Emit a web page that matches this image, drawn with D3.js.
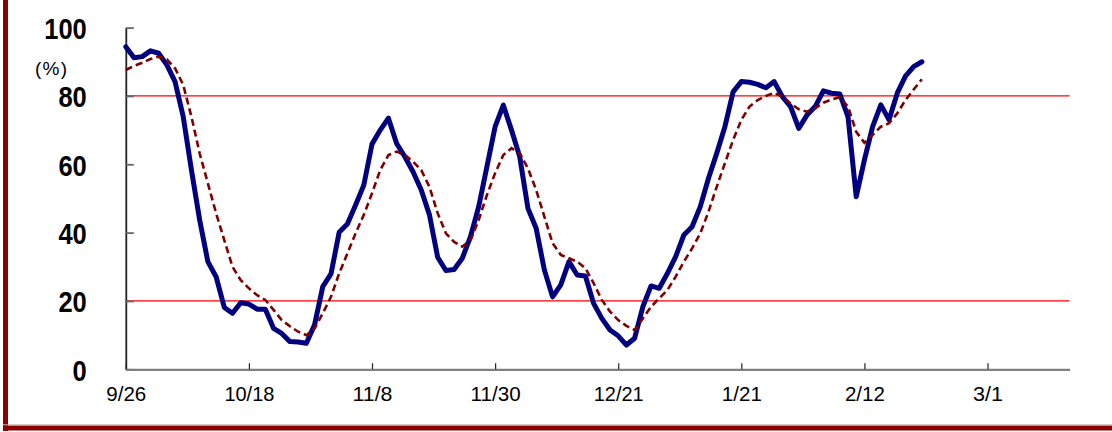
<!DOCTYPE html>
<html>
<head>
<meta charset="utf-8">
<script src="https://cdn.jsdelivr.net/npm/d3@7"></script>
<style>
  html, body { margin: 0; padding: 0; background: #fff; }
  svg { display: block; }
</style>
</head>
<body>
<svg id="chart" width="1112" height="432"></svg>
<script>
// ---- data ----
const categoryCount = 116;          // trading-day slots on the category axis
const tickIndex = [0, 15, 30, 45, 60, 75, 90, 105];
const tickLabels = ["9/26", "10/18", "11/8", "11/30", "12/21", "1/21", "2/12", "3/1"];
const yTicks = [0, 20, 40, 60, 80, 100];
const refLines = [80, 20];

const seriesMain = [
  94.4, 91.2, 91.5, 93.2, 92.5, 89.1, 84.2, 73.9, 58.3, 43.7,
  31.5, 27.1, 18.1, 16.4, 19.5, 19.1, 17.6, 17.6, 12.0, 10.5,
  8.1, 8.0, 7.6, 13.0, 24.2, 27.9, 40.1, 42.5, 48.1, 53.9,
  65.9, 70.0, 73.5, 66.1, 62.2, 57.8, 52.5, 45.2, 32.8, 28.9,
  29.2, 32.5, 38.8, 47.6, 59.3, 71.0, 77.3, 70.0, 62.2, 47.1,
  41.3, 29.1, 21.2, 24.7, 31.5, 27.6, 27.3, 19.3, 14.9, 11.5,
  9.8, 7.1, 9.1, 18.3, 24.4, 23.7, 28.1, 33.0, 39.3, 41.7,
  47.6, 55.9, 63.2, 71.0, 81.2, 84.2, 84.0, 83.4, 82.4, 84.2,
  79.8, 76.9, 70.5, 74.4, 76.9, 81.5, 80.8, 80.6, 73.9, 50.5,
  61.3, 71.0, 77.4, 73.0, 80.8, 85.8, 88.6, 90.0
];
const seriesAvg = [
  87.6, 88.8, 89.7, 90.8, 91.5, 90.7, 88.1, 83.2, 73.9, 63.2,
  54.4, 45.7, 37.8, 30.0, 26.1, 23.7, 21.7, 20.3, 17.4, 14.4,
  12.6, 11.0, 10.0, 12.0, 16.4, 21.2, 28.1, 33.9, 39.8, 45.2,
  51.5, 58.3, 62.7, 63.7, 62.7, 60.8, 58.3, 53.4, 45.7, 39.8,
  37.3, 35.9, 37.8, 43.7, 51.0, 57.4, 62.7, 64.7, 63.2, 58.8,
  52.5, 44.7, 36.9, 33.5, 32.5, 31.5, 29.6, 25.2, 20.3, 16.9,
  14.4, 12.7, 11.5, 14.9, 18.3, 20.8, 23.2, 27.1, 31.5, 35.4,
  39.8, 46.1, 53.4, 60.3, 67.1, 73.0, 76.9, 78.8, 80.0, 80.9,
  79.8, 77.8, 76.1, 75.4, 76.4, 78.0, 79.0, 79.6, 76.9, 69.5,
  66.3, 68.6, 71.0, 72.0, 74.9, 78.8, 81.9, 84.9
];

// ---- layout ----
const svg = d3.select("#chart");
const plotLeft = 125.8, plotRight = 1069.6, plotTop = 27.6, plotBottom = 369.3;

const x = d3.scaleLinear().domain([0, categoryCount - 1]).range([plotLeft, plotRight]);
const y = d3.scaleLinear().domain([0, 100]).range([plotBottom, plotTop]);

// frame (left and bottom dark-red borders)
svg.append("rect").attr("x", 3).attr("y", 0).attr("width", 5).attr("height", 431).attr("fill", "#8b0000");
svg.append("rect").attr("x", 3).attr("y", 425.5).attr("width", 1109).attr("height", 5).attr("fill", "#8b0000");
svg.append("line").attr("x1", 3).attr("x2", 1112).attr("y1", 424.8).attr("y2", 424.8)
  .attr("stroke", "#c8b4b4").attr("stroke-width", 1);

// reference lines
svg.selectAll("line.ref").data(refLines).enter().append("line")
  .attr("class", "ref")
  .attr("x1", x(0)).attr("x2", x(categoryCount - 1))
  .attr("y1", d => y(d)).attr("y2", d => y(d))
  .attr("stroke", "#ff0000").attr("stroke-width", 1.2);

// y axis
const yAxis = d3.axisLeft(y).tickValues(yTicks).tickSize(-8).tickSizeOuter(0).tickPadding(39);
const gy = svg.append("g").attr("transform", `translate(${plotLeft},0)`).call(yAxis);
gy.select(".domain").attr("stroke", "#222").attr("stroke-width", 1.8);
gy.selectAll(".tick line").attr("stroke", "#666").attr("stroke-width", 1.8);
gy.selectAll(".tick text")
  .attr("fill", "#000")
  .attr("dy", "0.36em")
  .attr("textLength", function () { return this.textContent.length * 14.2; })
  .attr("lengthAdjust", "spacingAndGlyphs")
  .style("font-family", "'Liberation Sans Narrow', 'Arial Narrow', 'Liberation Sans', sans-serif")
  .style("font-weight", "bold")
  .style("font-size", "30px");

// unit label
svg.append("text").attr("x", 51).attr("y", 75).attr("text-anchor", "middle")
  .attr("textLength", 32).attr("lengthAdjust", "spacing")
  .style("font-family", "'Liberation Sans', sans-serif").style("font-size", "19px")
  .text("(%)");

// x axis
const xAxis = d3.axisBottom(x).tickValues(tickIndex)
  .tickFormat((d, i) => tickLabels[i])
  .tickSize(-6).tickSizeOuter(0).tickPadding(17);
const gx = svg.append("g").attr("transform", `translate(0,${plotBottom})`).call(xAxis);
gx.select(".domain").attr("stroke", "#808080").attr("stroke-width", 2.2);
gx.selectAll(".tick line").attr("stroke", "#222").attr("stroke-width", 1.2);
gx.selectAll(".tick text")
  .attr("fill", "#000")
  .attr("textLength", function () { return this.textContent.length * 10; })
  .attr("lengthAdjust", "spacingAndGlyphs")
  .style("font-family", "'Liberation Sans Narrow', 'Arial Narrow', 'Liberation Sans', sans-serif")
  .style("font-size", "21px");

// lines
const line = d3.line().x((d, i) => x(i)).y(d => y(d));

svg.append("path").datum(seriesMain)
  .attr("d", line)
  .attr("fill", "none")
  .attr("stroke", "#000080")
  .attr("stroke-width", 5)
  .attr("stroke-linejoin", "round")
  .attr("stroke-linecap", "round");

svg.append("path").datum(seriesAvg)
  .attr("d", line)
  .attr("fill", "none")
  .attr("stroke", "#800000")
  .attr("stroke-width", 2.6)
  .attr("stroke-dasharray", "7,4");
</script>
</body>
</html>
